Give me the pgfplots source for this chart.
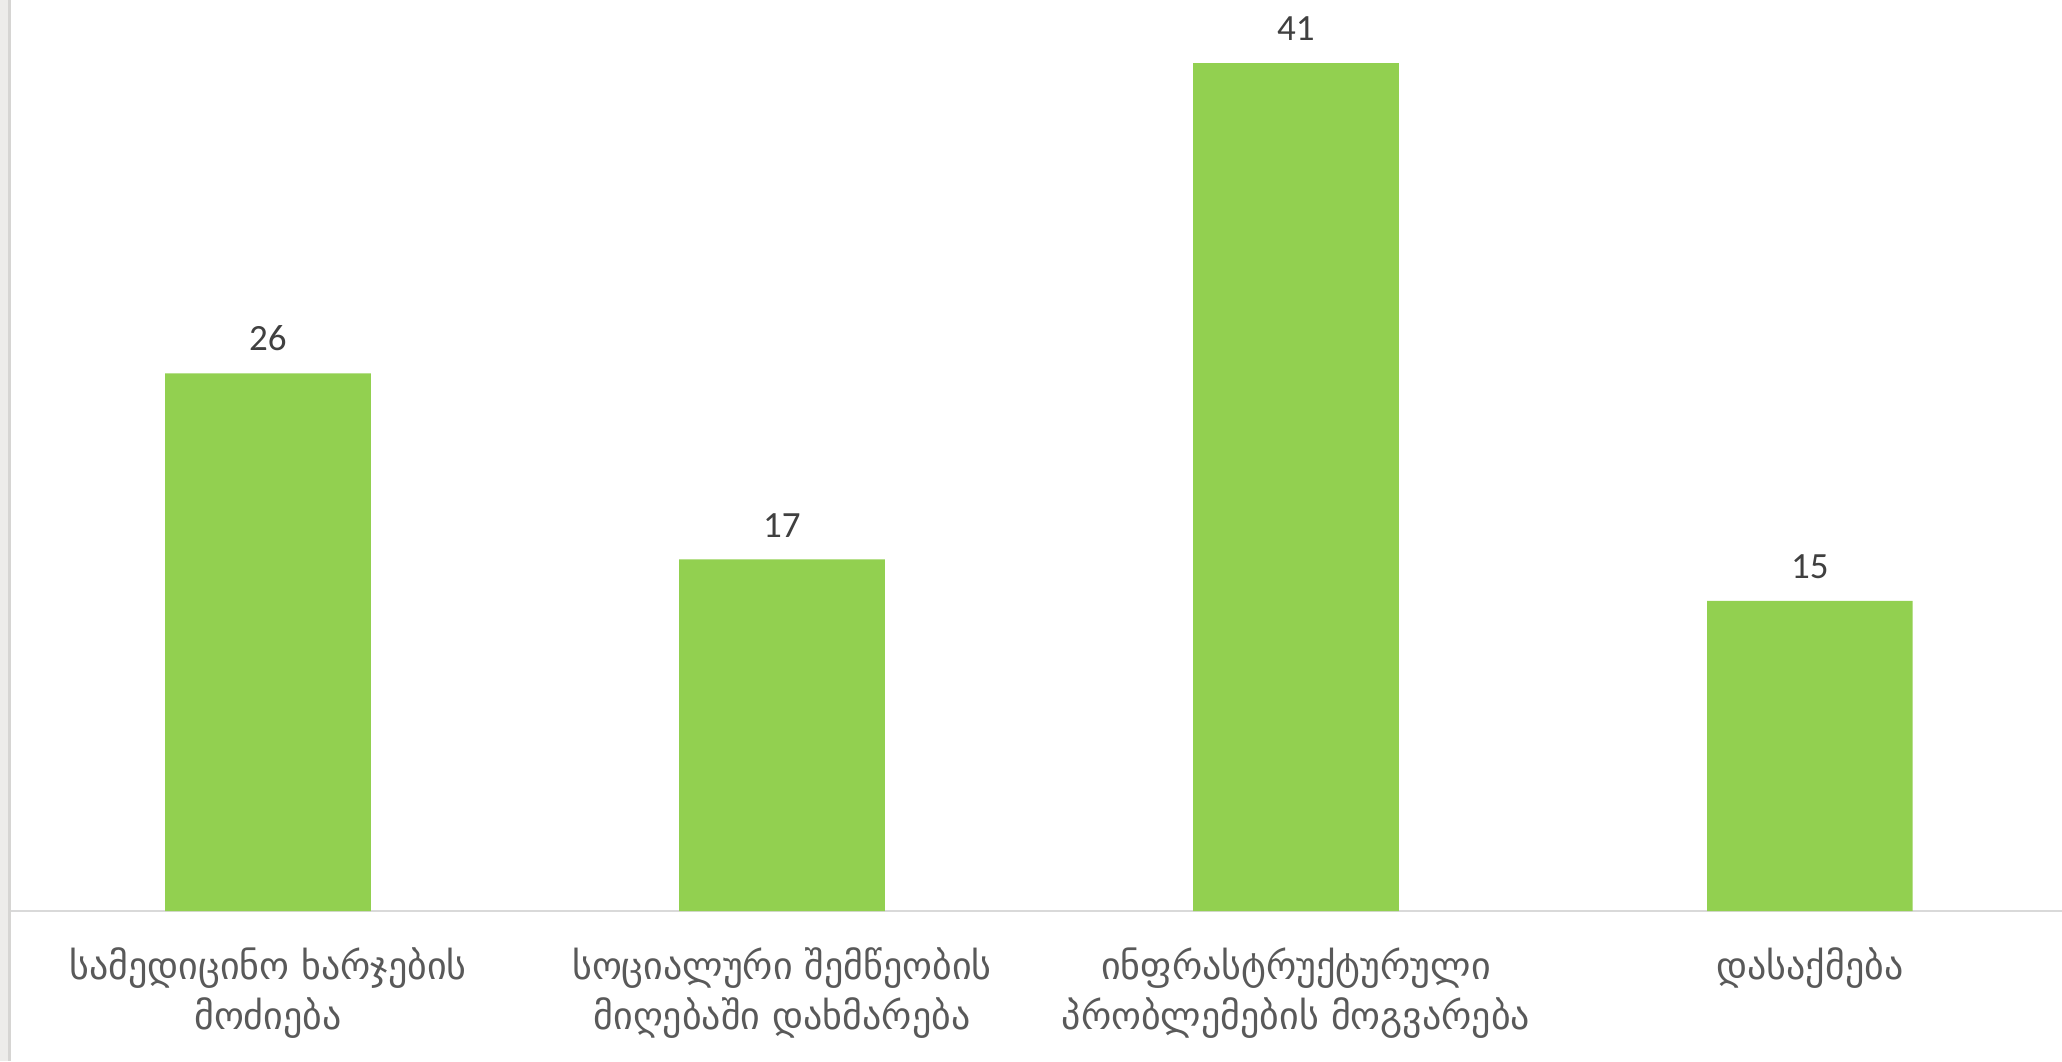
\documentclass[border=0pt]{standalone}
\usepackage{fontspec}
\setmainfont{Carlito}
\newfontfamily\geo{DejaVu Sans}
\usepackage{pgfplots}
\pgfplotsset{compat=1.18}
\definecolor{bargreen}{HTML}{92D050}
\definecolor{axisgray}{HTML}{D9D9D9}
\definecolor{stripgray}{HTML}{EDECEA}
\definecolor{edgegray}{HTML}{D6D5D3}
\definecolor{numgray}{HTML}{404040}
\definecolor{labelgray}{HTML}{595959}

\begin{document}
\begin{tikzpicture}[x=1pt,y=1pt]
  \useasboundingbox (0,0) rectangle (1031,530.5);
  % window edge on the left
  \fill[stripgray] (0,0) rectangle (4,530.5);
  \fill[edgegray] (4,0) rectangle (5.5,530.5);
  \begin{axis}[
    at={(5.5pt,75pt)}, anchor=south west,
    scale only axis, width=1028pt, height=455.5pt,
    xmin=-0.5, xmax=3.5, ymin=0, ymax=44.05,
    ybar, bar width=0.4,
    axis x line*=bottom, hide y axis,
    x axis line style={draw=axisgray, line width=0.75pt},
    xtick={0,1,2,3}, major tick length=0pt,
    xticklabels={
      {სამედიცინო ხარჯების\\მოძიება},
      {სოციალური შემწეობის\\მიღებაში დახმარება},
      {ინფრასტრუქტურული\\პრობლემების მოგვარება},
      {დასაქმება}},
    xticklabel style={font=\geo\fontsize{19}{25}\selectfont, align=center,
      text=labelgray, yshift=-15pt},
    /pgf/number format/assume math mode=true,
    nodes near coords,
    nodes near coords style={font=\fontsize{18.5}{20}\selectfont, text=numgray,
      anchor=south, yshift=7.5pt},
  ]
    \addplot[fill=bargreen, draw=none] coordinates {
      (0,26) (1,17) (2,41) (3,15)
    };
  \end{axis}
\end{tikzpicture}
\end{document}
